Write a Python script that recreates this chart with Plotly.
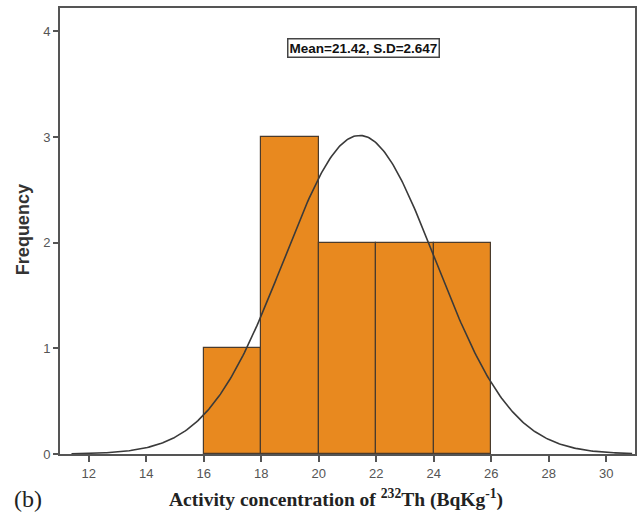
import numpy as np
import plotly.graph_objects as go

bin_edges = [16, 18, 20, 22, 24, 26]
frequencies = [1, 3, 2, 2, 2]
mean_val = 21.42
sd_val = 2.647
n_samples = sum(frequencies)
bin_width = 2
x_ticks = [12, 14, 16, 18, 20, 22, 24, 26, 28, 30]
y_ticks = [0, 1, 2, 3, 4]

centers = [(bin_edges[i] + bin_edges[i + 1]) / 2 for i in range(len(frequencies))]

xc = np.linspace(11.4, 30.9, 400)
yc = n_samples * bin_width / (sd_val * np.sqrt(2 * np.pi)) * np.exp(-0.5 * ((xc - mean_val) / sd_val) ** 2)

W, H = 639, 515
L, R, T, B = 60, 2, 8, 61
pw, ph = W - L - R, H - T - B


def px(x):
    return (x - L) / pw


def py(y):
    return (H - B - y) / ph


fig = go.Figure()
fig.add_trace(go.Bar(
    x=centers, y=frequencies, width=bin_width,
    marker=dict(color="#E8891F", line=dict(color="#4a3b2c", width=1.2)),
    showlegend=False, hoverinfo="skip",
))
fig.add_trace(go.Scatter(
    x=xc, y=yc, mode="lines",
    line=dict(color="#3a3a3a", width=1.6),
    showlegend=False, hoverinfo="skip",
))

fig.update_layout(
    width=W, height=H,
    margin=dict(l=L, r=R, t=T, b=B),
    paper_bgcolor="white", plot_bgcolor="white",
    bargap=0,
    font=dict(family="Liberation Sans, Arial", color="#555"),
    xaxis=dict(
        range=[11, 31], tickvals=x_ticks, ticktext=[str(v) for v in x_ticks],
        ticks="outside", ticklen=6, tickwidth=1.5, tickcolor="#555",
        showline=True, linecolor="#555", linewidth=2, mirror=True,
        showgrid=False, zeroline=False,
        tickfont=dict(size=13, color="#555", family="Liberation Sans, Arial"),
    ),
    yaxis=dict(
        range=[0, 4.22], tickvals=y_ticks, ticktext=[str(v) for v in y_ticks],
        ticks="outside", ticklen=5, tickwidth=1.5, tickcolor="#555",
        showline=True, linecolor="#555", linewidth=2, mirror=True,
        showgrid=False, zeroline=False,
        tickfont=dict(size=13, color="#555", family="Liberation Sans, Arial"),
    ),
    annotations=[
        dict(
            text="<b>Mean=21.42, S.D=2.647</b>",
            xref="paper", yref="paper", x=px(365), y=py(48),
            xanchor="center", yanchor="middle", showarrow=False,
            font=dict(size=13.5, color="#111", family="Liberation Sans, Arial"),
            bordercolor="#444", borderwidth=1.5, borderpad=1, bgcolor="white",
        ),
        dict(
            text="<b>Frequency</b>", textangle=-90,
            xref="paper", yref="paper", x=px(23), y=py(230),
            xanchor="center", yanchor="middle", showarrow=False,
            font=dict(size=18, color="#333", family="Liberation Sans, Arial"),
        ),
        dict(
            text="<b>Activity concentration of <sup>232</sup>Th (BqKg<sup>-1</sup>)</b>",
            xref="paper", yref="paper", x=px(337), y=py(498),
            xanchor="center", yanchor="middle", showarrow=False,
            font=dict(size=19.5, color="#222", family="Liberation Serif, Times New Roman"),
        ),
        dict(
            text="(b)",
            xref="paper", yref="paper", x=px(28), y=py(499),
            xanchor="center", yanchor="middle", showarrow=False,
            font=dict(size=24, color="#222", family="Liberation Serif, Times New Roman"),
        ),
    ],
)

fig.write_html("out.html")
